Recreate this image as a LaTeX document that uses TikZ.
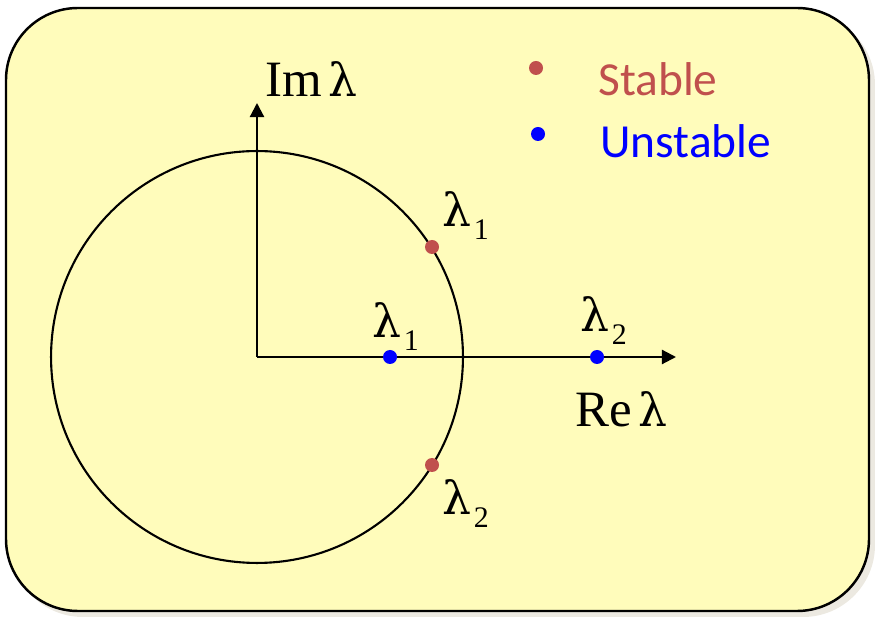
\documentclass[tikz,border=0pt]{standalone}
\usepackage{fontspec}
\usepackage{tikz}
\usetikzlibrary{arrows.meta, positioning}
\setmainfont{Liberation Serif}
\newfontfamily\legendfont{Carlito}
\newfontfamily\greekfont{DejaVu Serif}
\definecolor{boxfill}{HTML}{FFFCBB}
\definecolor{boxshadow}{HTML}{ECE9E1}
\definecolor{stablered}{HTML}{C0504D}
\definecolor{unstableblue}{HTML}{0000FF}
\newcommand{\lam}[1]{{\greekfont λ}\hspace{1.5pt}\raisebox{-7pt}{\fontsize{17}{17}\selectfont #1}}
\tikzset{
	>={Triangle[length=8pt,width=8pt]}, % filled arrow heads on the axes
	axis/.style={->, line width=1.2pt},
	eig/.style={circle, inner sep=0pt, minimum size=0.28cm}, % the eigenvalue dots
	stable/.style={eig, fill=stablered},
	unstable/.style={eig, fill=unstableblue},
	lamlabel/.style={anchor=base west, inner sep=0pt, font=\fontsize{26}{26}\selectfont},
	legendtext/.style={anchor=base west, inner sep=0pt, font=\legendfont\fontsize{27}{27}\selectfont},
}

\begin{document}
\begin{tikzpicture}[x=0.02cm, y=-0.02cm]
	\useasboundingbox (0,0) rectangle (875,617);
	% background card with its shadow
	\fill[boxshadow, rounded corners=1.44cm] (11,13) rectangle (875,617);
	\draw[fill=boxfill, line width=1.4pt, rounded corners=1.44cm] (6,8) rectangle (869,611);
	% unit circle and axes
	\coordinate (O) at (257,357);
	\coordinate (imtip) at (257,103);
	\coordinate (retip) at (676,357);
	\draw[line width=1.2pt] (O) circle [radius=4.12cm];
	\draw[axis] (O) -- (imtip);
	\draw[axis] (O) -- (retip);
	\node[lamlabel, font=\fontsize{29}{29}\selectfont] (imlab) at (265,97) {Im\hspace{4pt}{\greekfont\fontsize{26}{26}\selectfont λ}};
	\node[lamlabel, font=\fontsize{29}{29}\selectfont] (relab) at (575,427) {Re\hspace{4pt}{\greekfont\fontsize{26}{26}\selectfont λ}};
	% eigenvalues
	\node[stable] (s1) at (432,247) {};
	\node[stable] (s2) at (432,465) {};
	\node[unstable] (u1) at (390,357) {};
	\node[unstable] (u2) at (597,357) {};
	\node[lamlabel] (s1lab) at (442,227) {\lam{1}};
	\node[lamlabel] (s2lab) at (442,515) {\lam{2}};
	\node[lamlabel] (u1lab) at (372,338) {\lam{1}};
	\node[lamlabel] (u2lab) at (580,332) {\lam{2}};
	% legend
	\node[stable] (legs) at (536,68) {};
	\node[unstable] (legu) at (538,134) {};
	\node[legendtext, text=stablered] (legstab) at (598,96) {Stable};
	\node[legendtext, text=unstableblue] (legunst) at (600,158) {Unstable};
\end{tikzpicture}
\end{document}
